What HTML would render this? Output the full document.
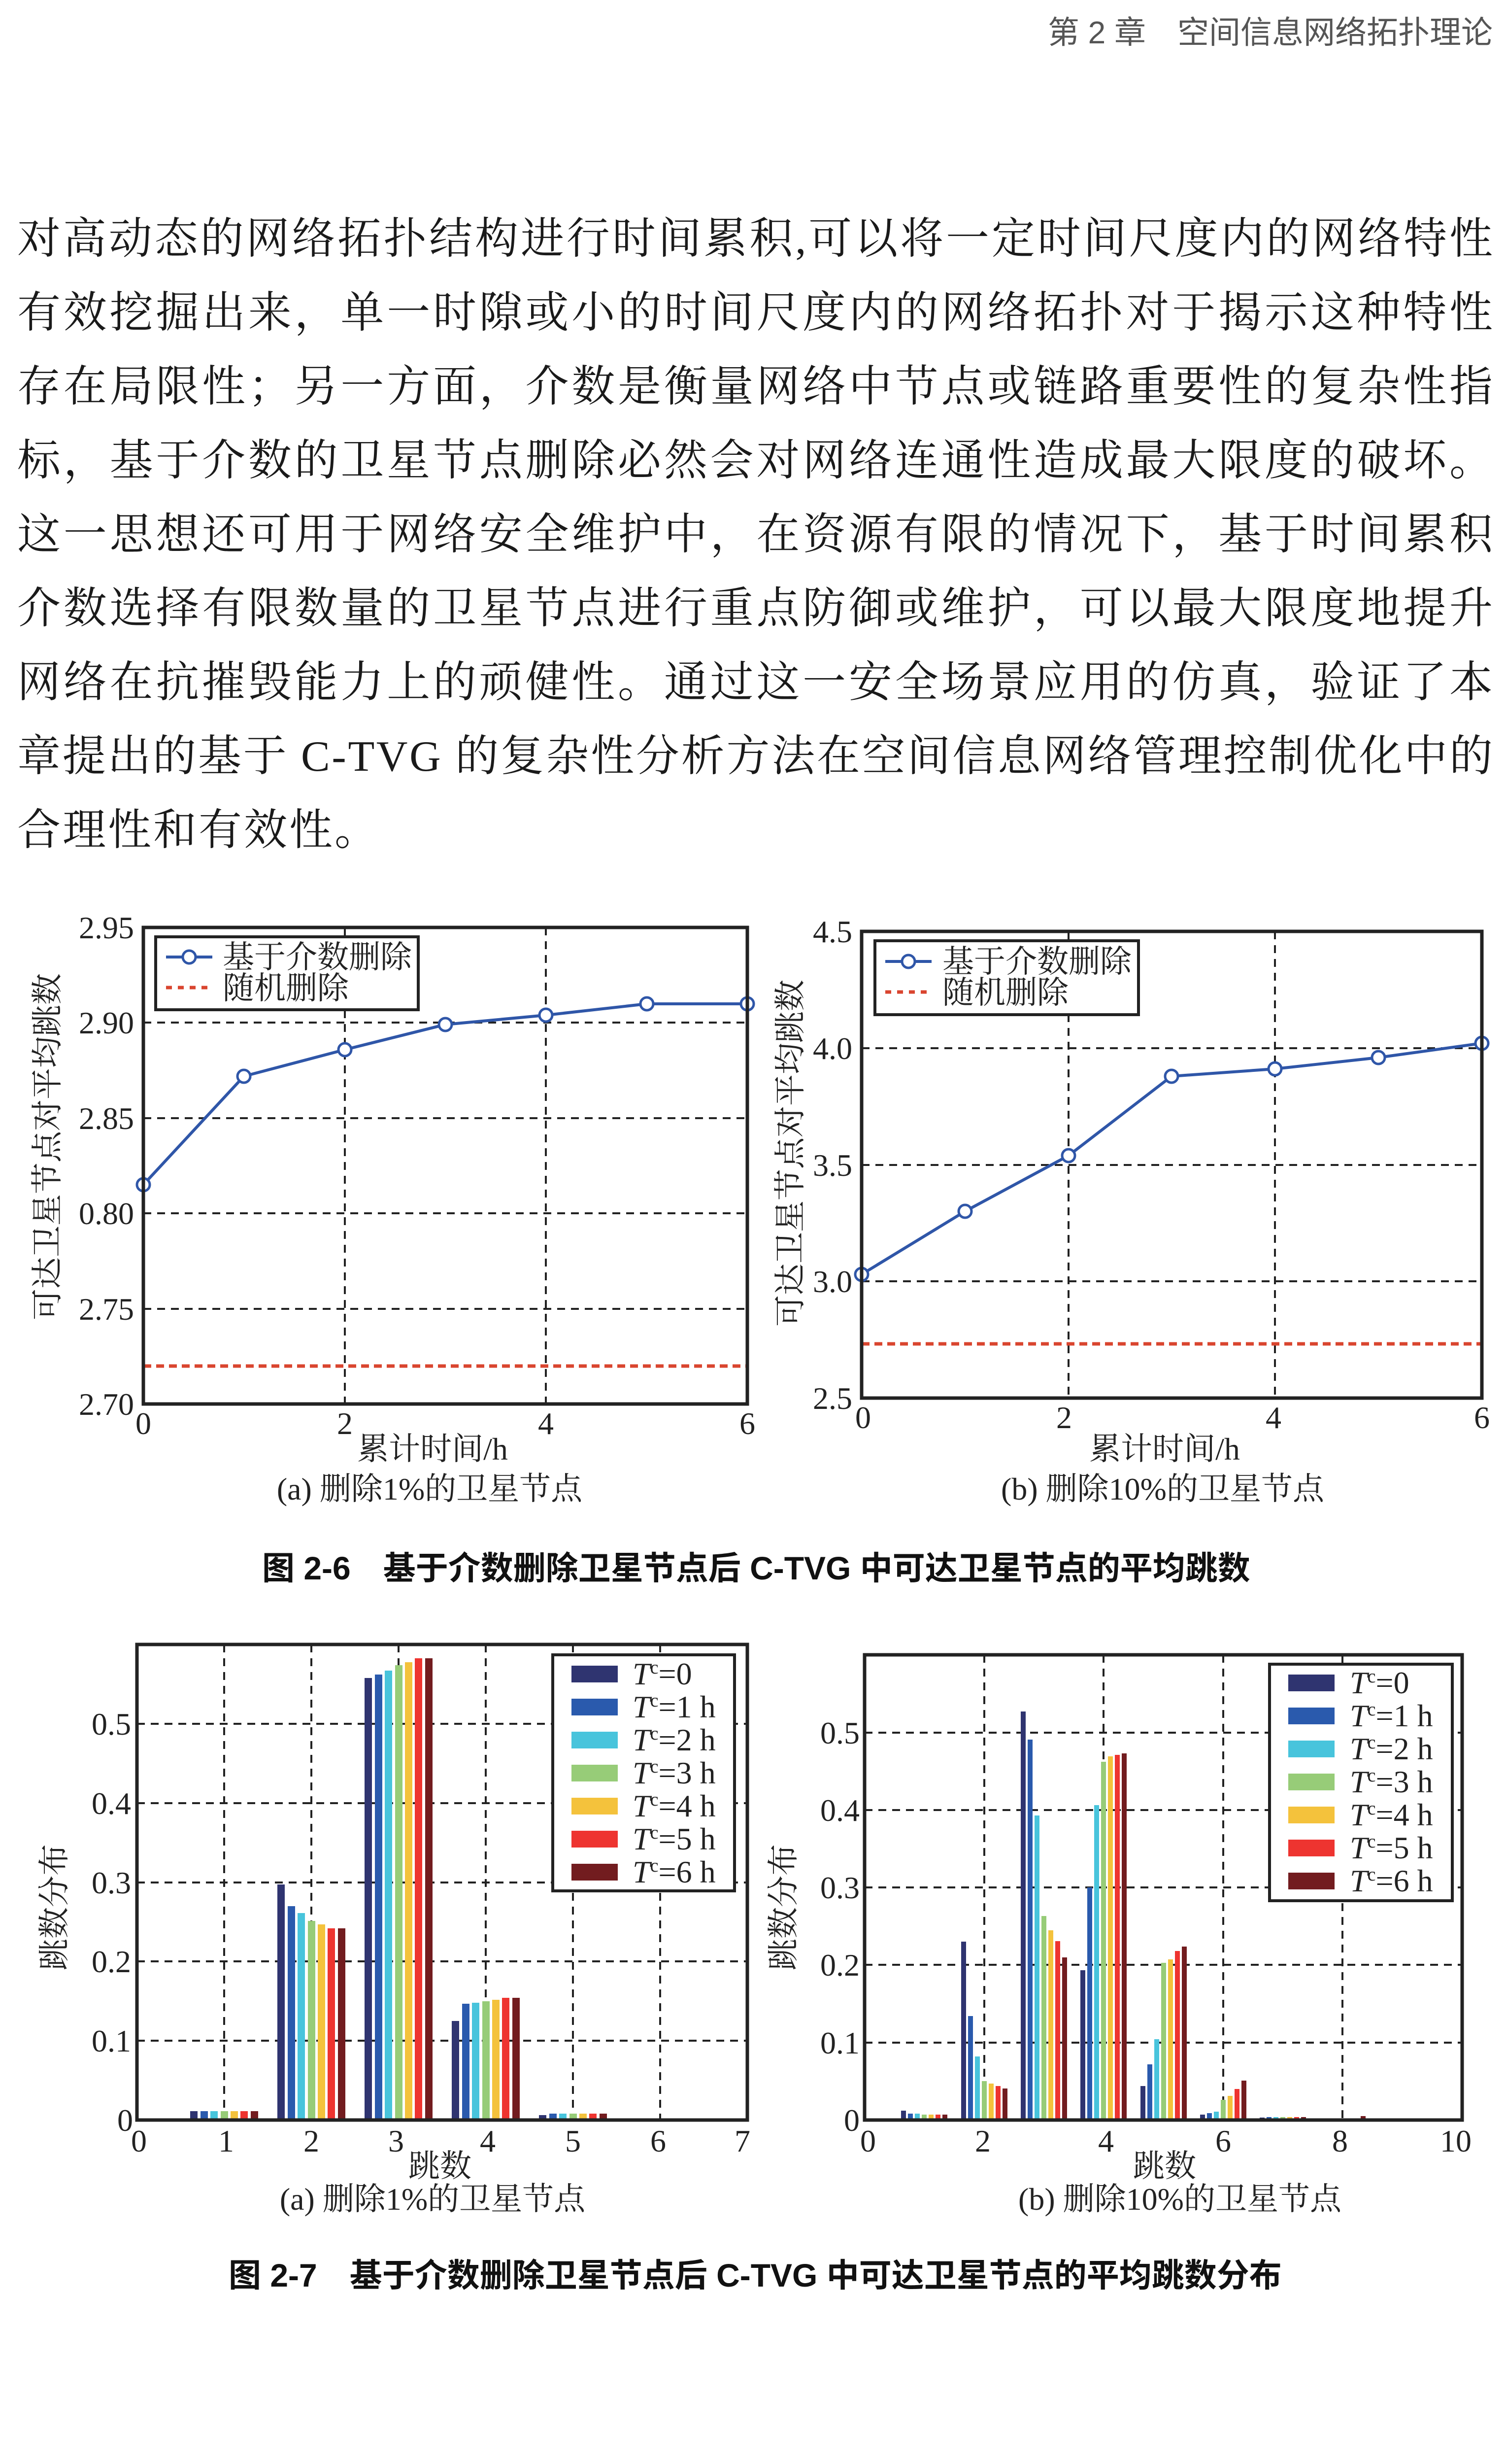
<!DOCTYPE html>
<html><head><meta charset="utf-8">
<style>
html,body{margin:0;padding:0;background:#fff;width:3057px;height:5105px;overflow:hidden;}
svg{display:block;}
.body{font-family:"Liberation Serif","Noto Serif CJK SC",serif;font-size:88px;fill:#1a1a1a;}
.cap{font-family:"Liberation Sans","Noto Sans CJK SC",sans-serif;font-size:66px;font-weight:bold;fill:#111;}
.tk{font-family:"Liberation Serif","Noto Serif CJK SC",serif;font-size:64px;fill:#222;}
.lg{font-family:"Liberation Serif","Noto Serif CJK SC",serif;font-size:64px;fill:#222;}
.grid{stroke:#222;stroke-width:4;stroke-dasharray:16 12;fill:none;}
.frame{stroke:#222;stroke-width:7;fill:none;}
</style></head>
<body>
<svg width="3057" height="5105" viewBox="0 0 3057 5105" xmlns="http://www.w3.org/2000/svg">
<rect width="3057" height="5105" fill="#fff"/>
<text x="3030" y="88" text-anchor="end" font-family="Liberation Sans,Noto Sans CJK SC,sans-serif" font-size="64" fill="#555">第 2 章　空间信息网络拓扑理论</text>

<text class="body" x="35" y="514" textLength="2995" lengthAdjust="spacing">对高动态的网络拓扑结构进行时间累积,可以将一定时间尺度内的网络特性</text>
<text class="body" x="35" y="664" textLength="2995" lengthAdjust="spacing">有效挖掘出来，单一时隙或小的时间尺度内的网络拓扑对于揭示这种特性</text>
<text class="body" x="35" y="814" textLength="2995" lengthAdjust="spacing">存在局限性；另一方面，介数是衡量网络中节点或链路重要性的复杂性指</text>
<text class="body" x="35" y="964" textLength="2995" lengthAdjust="spacing">标，基于介数的卫星节点删除必然会对网络连通性造成最大限度的破坏。</text>
<text class="body" x="35" y="1114" textLength="2995" lengthAdjust="spacing">这一思想还可用于网络安全维护中，在资源有限的情况下，基于时间累积</text>
<text class="body" x="35" y="1264" textLength="2995" lengthAdjust="spacing">介数选择有限数量的卫星节点进行重点防御或维护，可以最大限度地提升</text>
<text class="body" x="35" y="1414" textLength="2995" lengthAdjust="spacing">网络在抗摧毁能力上的顽健性。通过这一安全场景应用的仿真，验证了本</text>
<text class="body" x="35" y="1564" textLength="2995" lengthAdjust="spacing">章提出的基于 C-TVG 的复杂性分析方法在空间信息网络管理控制优化中的</text>
<text class="body" x="35" y="1714" letter-spacing="4">合理性和有效性。</text>

<!-- ===== Chart 1a ===== -->
<g>
<line class="grid" x1="291" y1="2656" x2="1517" y2="2656"/>
<line class="grid" x1="291" y1="2462" x2="1517" y2="2462"/>
<line class="grid" x1="291" y1="2269" x2="1517" y2="2269"/>
<line class="grid" x1="291" y1="2075" x2="1517" y2="2075"/>
<line class="grid" x1="700" y1="1882" x2="700" y2="2849"/>
<line class="grid" x1="1108" y1="1882" x2="1108" y2="2849"/>
<line x1="291" y1="2772" x2="1517" y2="2772" stroke="#d9452f" stroke-width="7" stroke-dasharray="16 10"/>
<polyline points="291,2404 495,2184 700,2130 904,2079 1108,2060 1313,2037 1517,2037" fill="none" stroke="#2f56a8" stroke-width="6"/>
<g fill="#fff" stroke="#2f56a8" stroke-width="5">
<circle cx="291" cy="2404" r="13"/><circle cx="495" cy="2184" r="13"/><circle cx="700" cy="2130" r="13"/><circle cx="904" cy="2079" r="13"/><circle cx="1108" cy="2060" r="13"/><circle cx="1313" cy="2037" r="13"/><circle cx="1517" cy="2037" r="13"/>
</g>
<rect x="316" y="1901" width="533" height="148" fill="#fff" stroke="#222" stroke-width="6"/>
<line x1="337" y1="1942" x2="431" y2="1942" stroke="#2f56a8" stroke-width="6"/>
<circle cx="384" cy="1942" r="13" fill="#fff" stroke="#2f56a8" stroke-width="5"/>
<line x1="337" y1="2004" x2="431" y2="2004" stroke="#d9452f" stroke-width="7" stroke-dasharray="12 12"/>
<text class="lg" x="452" y="1964">基于介数删除</text>
<text class="lg" x="452" y="2027">随机删除</text>
<rect class="frame" x="291" y="1882" width="1226" height="967"/>
<g class="tk" text-anchor="end">
<text x="272" y="1904">2.95</text><text x="272" y="2097">2.90</text><text x="272" y="2291">2.85</text><text x="272" y="2484">0.80</text><text x="272" y="2678">2.75</text><text x="272" y="2871">2.70</text>
</g>
<g class="tk" text-anchor="middle">
<text x="291" y="2910">0</text><text x="700" y="2910">2</text><text x="1108" y="2910">4</text><text x="1517" y="2910">6</text>
<text x="878" y="2962" font-size="64">累计时间/h</text>
<text x="872" y="3043" font-size="64">(a)  删除1%的卫星节点</text>
</g>
<text class="tk" font-size="68" text-anchor="middle" transform="translate(118,2327) rotate(-90)">可达卫星节点对平均跳数</text>
</g>

<!-- ===== Chart 1b ===== -->
<g>
<line class="grid" x1="1749" y1="2600" x2="3008" y2="2600"/>
<line class="grid" x1="1749" y1="2364" x2="3008" y2="2364"/>
<line class="grid" x1="1749" y1="2127" x2="3008" y2="2127"/>
<line class="grid" x1="2169" y1="1890" x2="2169" y2="2837"/>
<line class="grid" x1="2588" y1="1890" x2="2588" y2="2837"/>
<line x1="1749" y1="2727" x2="3008" y2="2727" stroke="#d9452f" stroke-width="7" stroke-dasharray="16 10"/>
<polyline points="1749,2586 1959,2458 2169,2345 2378,2184 2588,2169 2798,2146 3008,2117" fill="none" stroke="#2f56a8" stroke-width="6"/>
<g fill="#fff" stroke="#2f56a8" stroke-width="5">
<circle cx="1749" cy="2586" r="13"/><circle cx="1959" cy="2458" r="13"/><circle cx="2169" cy="2345" r="13"/><circle cx="2378" cy="2184" r="13"/><circle cx="2588" cy="2169" r="13"/><circle cx="2798" cy="2146" r="13"/><circle cx="3008" cy="2117" r="13"/>
</g>
<rect x="1776" y="1909" width="535" height="150" fill="#fff" stroke="#222" stroke-width="6"/>
<line x1="1797" y1="1951" x2="1891" y2="1951" stroke="#2f56a8" stroke-width="6"/>
<circle cx="1844" cy="1951" r="13" fill="#fff" stroke="#2f56a8" stroke-width="5"/>
<line x1="1797" y1="2013" x2="1891" y2="2013" stroke="#d9452f" stroke-width="7" stroke-dasharray="12 12"/>
<text class="lg" x="1913" y="1973">基于介数删除</text>
<text class="lg" x="1913" y="2036">随机删除</text>
<rect class="frame" x="1749" y="1890" width="1259" height="947"/>
<g class="tk" text-anchor="end">
<text x="1730" y="1912">4.5</text><text x="1730" y="2149">4.0</text><text x="1730" y="2386">3.5</text><text x="1730" y="2622">3.0</text><text x="1730" y="2859">2.5</text>
</g>
<g class="tk" text-anchor="middle">
<text x="1752" y="2898">0</text><text x="2160" y="2898">2</text><text x="2585" y="2898">4</text><text x="3008" y="2898">6</text>
<text x="2364" y="2962" font-size="64">累计时间/h</text>
<text x="2360" y="3043" font-size="64">(b)  删除10%的卫星节点</text>
</g>
<text class="tk" font-size="68" text-anchor="middle" transform="translate(1626,2340) rotate(-90)">可达卫星节点对平均跳数</text>
</g>

<text class="cap" x="532" y="3205">图 2-6　基于介数删除卫星节点后 C-TVG 中可达卫星节点的平均跳数</text>

<!-- ===== Chart 2a ===== -->
<g>
<line class="grid" x1="278" y1="4141" x2="1517" y2="4141"/>
<line class="grid" x1="278" y1="3980" x2="1517" y2="3980"/>
<line class="grid" x1="278" y1="3820" x2="1517" y2="3820"/>
<line class="grid" x1="278" y1="3659" x2="1517" y2="3659"/>
<line class="grid" x1="278" y1="3498" x2="1517" y2="3498"/>
<line class="grid" x1="455" y1="3337" x2="455" y2="4302"/>
<line class="grid" x1="632" y1="3337" x2="632" y2="4302"/>
<line class="grid" x1="809" y1="3337" x2="809" y2="4302"/>
<line class="grid" x1="986" y1="3337" x2="986" y2="4302"/>
<line class="grid" x1="1163" y1="3337" x2="1163" y2="4302"/>
<line class="grid" x1="1340" y1="3337" x2="1340" y2="4302"/>
<rect x="386" y="4284" width="15" height="18" fill="#2f3470"/>
<rect x="407" y="4284" width="15" height="18" fill="#2a5aad"/>
<rect x="427" y="4284" width="15" height="18" fill="#48c4dc"/>
<rect x="448" y="4284" width="15" height="18" fill="#97cc78"/>
<rect x="468" y="4284" width="15" height="18" fill="#f4c23c"/>
<rect x="488" y="4284" width="15" height="18" fill="#ee3430"/>
<rect x="509" y="4284" width="15" height="18" fill="#721c1f"/>
<rect x="563" y="3824" width="15" height="478" fill="#2f3470"/>
<rect x="584" y="3868" width="15" height="434" fill="#2a5aad"/>
<rect x="604" y="3882" width="15" height="420" fill="#48c4dc"/>
<rect x="625" y="3898" width="15" height="404" fill="#97cc78"/>
<rect x="645" y="3905" width="15" height="397" fill="#f4c23c"/>
<rect x="665" y="3913" width="15" height="389" fill="#ee3430"/>
<rect x="686" y="3913" width="15" height="389" fill="#721c1f"/>
<rect x="740" y="3405" width="15" height="897" fill="#2f3470"/>
<rect x="761" y="3398" width="15" height="904" fill="#2a5aad"/>
<rect x="781" y="3390" width="15" height="912" fill="#48c4dc"/>
<rect x="802" y="3379" width="15" height="923" fill="#97cc78"/>
<rect x="822" y="3373" width="15" height="929" fill="#f4c23c"/>
<rect x="842" y="3365" width="15" height="937" fill="#ee3430"/>
<rect x="863" y="3365" width="15" height="937" fill="#721c1f"/>
<rect x="917" y="4101" width="15" height="201" fill="#2f3470"/>
<rect x="938" y="4066" width="15" height="236" fill="#2a5aad"/>
<rect x="958" y="4064" width="15" height="238" fill="#48c4dc"/>
<rect x="979" y="4061" width="15" height="241" fill="#97cc78"/>
<rect x="999" y="4058" width="15" height="244" fill="#f4c23c"/>
<rect x="1019" y="4054" width="15" height="248" fill="#ee3430"/>
<rect x="1040" y="4054" width="15" height="248" fill="#721c1f"/>
<rect x="1094" y="4292" width="15" height="10" fill="#2f3470"/>
<rect x="1115" y="4289" width="15" height="13" fill="#2a5aad"/>
<rect x="1135" y="4289" width="15" height="13" fill="#48c4dc"/>
<rect x="1156" y="4289" width="15" height="13" fill="#97cc78"/>
<rect x="1176" y="4289" width="15" height="13" fill="#f4c23c"/>
<rect x="1196" y="4289" width="15" height="13" fill="#ee3430"/>
<rect x="1217" y="4289" width="15" height="13" fill="#721c1f"/>
<rect x="1122" y="3358" width="369" height="479" fill="#fff" stroke="#222" stroke-width="6"/>
<rect x="1160" y="3380" width="94" height="34" fill="#2f3470"/>
<rect x="1160" y="3447" width="94" height="34" fill="#2a5aad"/>
<rect x="1160" y="3514" width="94" height="34" fill="#48c4dc"/>
<rect x="1160" y="3581" width="94" height="34" fill="#97cc78"/>
<rect x="1160" y="3648" width="94" height="34" fill="#f4c23c"/>
<rect x="1160" y="3715" width="94" height="34" fill="#ee3430"/>
<rect x="1160" y="3782" width="94" height="34" fill="#721c1f"/>
<g class="tk" font-size="62">
<text x="1284" y="3418"><tspan font-style="italic">T</tspan><tspan font-size="38" dy="-22">c</tspan><tspan dy="22">=0</tspan></text>
<text x="1284" y="3485"><tspan font-style="italic">T</tspan><tspan font-size="38" dy="-22">c</tspan><tspan dy="22">=1 h</tspan></text>
<text x="1284" y="3552"><tspan font-style="italic">T</tspan><tspan font-size="38" dy="-22">c</tspan><tspan dy="22">=2 h</tspan></text>
<text x="1284" y="3619"><tspan font-style="italic">T</tspan><tspan font-size="38" dy="-22">c</tspan><tspan dy="22">=3 h</tspan></text>
<text x="1284" y="3686"><tspan font-style="italic">T</tspan><tspan font-size="38" dy="-22">c</tspan><tspan dy="22">=4 h</tspan></text>
<text x="1284" y="3753"><tspan font-style="italic">T</tspan><tspan font-size="38" dy="-22">c</tspan><tspan dy="22">=5 h</tspan></text>
<text x="1284" y="3820"><tspan font-style="italic">T</tspan><tspan font-size="38" dy="-22">c</tspan><tspan dy="22">=6 h</tspan></text>
</g>
<rect class="frame" x="278" y="3337" width="1239" height="965"/>
<g class="tk" text-anchor="end">
<text x="266" y="3520">0.5</text><text x="266" y="3681">0.4</text><text x="266" y="3842">0.3</text><text x="266" y="4002">0.2</text><text x="266" y="4163">0.1</text><text x="270" y="4324">0</text>
</g>
<g class="tk" text-anchor="middle">
<text x="282" y="4366">0</text><text x="459" y="4366">1</text><text x="632" y="4366">2</text><text x="804" y="4366">3</text><text x="990" y="4366">4</text><text x="1163" y="4366">5</text><text x="1336" y="4366">6</text><text x="1507" y="4366">7</text>
<text x="893" y="4417" font-size="64">跳数</text>
<text x="878" y="4484" font-size="64">(a)  删除1%的卫星节点</text>
</g>
<text class="tk" font-size="68" text-anchor="middle" transform="translate(132,3870) rotate(-90)">跳数分布</text>
</g>

<!-- ===== Chart 2b ===== -->
<g>
<line class="grid" x1="1755" y1="4145" x2="2968" y2="4145"/>
<line class="grid" x1="1755" y1="3987" x2="2968" y2="3987"/>
<line class="grid" x1="1755" y1="3830" x2="2968" y2="3830"/>
<line class="grid" x1="1755" y1="3673" x2="2968" y2="3673"/>
<line class="grid" x1="1755" y1="3516" x2="2968" y2="3516"/>
<line class="grid" x1="1998" y1="3358" x2="1998" y2="4302"/>
<line class="grid" x1="2240" y1="3358" x2="2240" y2="4302"/>
<line class="grid" x1="2483" y1="3358" x2="2483" y2="4302"/>
<line class="grid" x1="2725" y1="3358" x2="2725" y2="4302"/>
<rect x="1829" y="4283" width="10" height="19" fill="#2f3470"/>
<rect x="1843" y="4289" width="10" height="13" fill="#2a5aad"/>
<rect x="1857" y="4289" width="10" height="13" fill="#48c4dc"/>
<rect x="1871" y="4291" width="10" height="11" fill="#97cc78"/>
<rect x="1885" y="4291" width="10" height="11" fill="#f4c23c"/>
<rect x="1899" y="4291" width="10" height="11" fill="#ee3430"/>
<rect x="1913" y="4291" width="10" height="11" fill="#721c1f"/>
<rect x="1951" y="3940" width="10" height="362" fill="#2f3470"/>
<rect x="1965" y="4091" width="10" height="211" fill="#2a5aad"/>
<rect x="1979" y="4173" width="10" height="129" fill="#48c4dc"/>
<rect x="1993" y="4223" width="10" height="79" fill="#97cc78"/>
<rect x="2007" y="4228" width="10" height="74" fill="#f4c23c"/>
<rect x="2021" y="4233" width="10" height="69" fill="#ee3430"/>
<rect x="2035" y="4238" width="10" height="64" fill="#721c1f"/>
<rect x="2072" y="3473" width="10" height="829" fill="#2f3470"/>
<rect x="2086" y="3530" width="10" height="772" fill="#2a5aad"/>
<rect x="2100" y="3684" width="10" height="618" fill="#48c4dc"/>
<rect x="2114" y="3888" width="10" height="414" fill="#97cc78"/>
<rect x="2128" y="3917" width="10" height="385" fill="#f4c23c"/>
<rect x="2142" y="3939" width="10" height="363" fill="#ee3430"/>
<rect x="2156" y="3972" width="10" height="330" fill="#721c1f"/>
<rect x="2193" y="3998" width="10" height="304" fill="#2f3470"/>
<rect x="2207" y="3830" width="10" height="472" fill="#2a5aad"/>
<rect x="2221" y="3663" width="10" height="639" fill="#48c4dc"/>
<rect x="2235" y="3575" width="10" height="727" fill="#97cc78"/>
<rect x="2249" y="3564" width="10" height="738" fill="#f4c23c"/>
<rect x="2263" y="3561" width="10" height="741" fill="#ee3430"/>
<rect x="2277" y="3558" width="10" height="744" fill="#721c1f"/>
<rect x="2315" y="4233" width="10" height="69" fill="#2f3470"/>
<rect x="2329" y="4189" width="10" height="113" fill="#2a5aad"/>
<rect x="2343" y="4138" width="10" height="164" fill="#48c4dc"/>
<rect x="2357" y="3983" width="10" height="319" fill="#97cc78"/>
<rect x="2371" y="3976" width="10" height="326" fill="#f4c23c"/>
<rect x="2385" y="3959" width="10" height="343" fill="#ee3430"/>
<rect x="2399" y="3950" width="10" height="352" fill="#721c1f"/>
<rect x="2436" y="4291" width="10" height="11" fill="#2f3470"/>
<rect x="2450" y="4288" width="10" height="14" fill="#2a5aad"/>
<rect x="2464" y="4285" width="10" height="17" fill="#48c4dc"/>
<rect x="2478" y="4261" width="10" height="41" fill="#97cc78"/>
<rect x="2492" y="4253" width="10" height="49" fill="#f4c23c"/>
<rect x="2506" y="4239" width="10" height="63" fill="#ee3430"/>
<rect x="2520" y="4222" width="10" height="80" fill="#721c1f"/>
<rect x="2557" y="4297" width="10" height="5" fill="#2f3470"/>
<rect x="2571" y="4296" width="10" height="6" fill="#2a5aad"/>
<rect x="2585" y="4296" width="10" height="6" fill="#48c4dc"/>
<rect x="2599" y="4296" width="10" height="6" fill="#97cc78"/>
<rect x="2613" y="4296" width="10" height="6" fill="#f4c23c"/>
<rect x="2627" y="4296" width="10" height="6" fill="#ee3430"/>
<rect x="2641" y="4296" width="10" height="6" fill="#721c1f"/>
<rect x="2762" y="4294" width="10" height="8" fill="#721c1f"/>
<rect x="2577" y="3377" width="371" height="480" fill="#fff" stroke="#222" stroke-width="6"/>
<rect x="2615" y="3398" width="94" height="34" fill="#2f3470"/>
<rect x="2615" y="3465" width="94" height="34" fill="#2a5aad"/>
<rect x="2615" y="3532" width="94" height="34" fill="#48c4dc"/>
<rect x="2615" y="3599" width="94" height="34" fill="#97cc78"/>
<rect x="2615" y="3666" width="94" height="34" fill="#f4c23c"/>
<rect x="2615" y="3733" width="94" height="34" fill="#ee3430"/>
<rect x="2615" y="3800" width="94" height="34" fill="#721c1f"/>
<g class="tk" font-size="62">
<text x="2740" y="3436"><tspan font-style="italic">T</tspan><tspan font-size="38" dy="-22">c</tspan><tspan dy="22">=0</tspan></text>
<text x="2740" y="3503"><tspan font-style="italic">T</tspan><tspan font-size="38" dy="-22">c</tspan><tspan dy="22">=1 h</tspan></text>
<text x="2740" y="3570"><tspan font-style="italic">T</tspan><tspan font-size="38" dy="-22">c</tspan><tspan dy="22">=2 h</tspan></text>
<text x="2740" y="3637"><tspan font-style="italic">T</tspan><tspan font-size="38" dy="-22">c</tspan><tspan dy="22">=3 h</tspan></text>
<text x="2740" y="3704"><tspan font-style="italic">T</tspan><tspan font-size="38" dy="-22">c</tspan><tspan dy="22">=4 h</tspan></text>
<text x="2740" y="3771"><tspan font-style="italic">T</tspan><tspan font-size="38" dy="-22">c</tspan><tspan dy="22">=5 h</tspan></text>
<text x="2740" y="3838"><tspan font-style="italic">T</tspan><tspan font-size="38" dy="-22">c</tspan><tspan dy="22">=6 h</tspan></text>
</g>
<rect class="frame" x="1755" y="3358" width="1213" height="944"/>
<g class="tk" text-anchor="end">
<text x="1745" y="3538">0.5</text><text x="1745" y="3695">0.4</text><text x="1745" y="3852">0.3</text><text x="1745" y="4009">0.2</text><text x="1745" y="4167">0.1</text><text x="1745" y="4324">0</text>
</g>
<g class="tk" text-anchor="middle">
<text x="1762" y="4366">0</text><text x="1995" y="4366">2</text><text x="2245" y="4366">4</text><text x="2483" y="4366">6</text><text x="2720" y="4366">8</text><text x="2955" y="4366">10</text>
<text x="2364" y="4417" font-size="64">跳数</text>
<text x="2395" y="4484" font-size="64">(b)  删除10%的卫星节点</text>
</g>
<text class="tk" font-size="68" text-anchor="middle" transform="translate(1612,3870) rotate(-90)">跳数分布</text>
</g>

<text class="cap" x="464" y="4640">图 2-7　基于介数删除卫星节点后 C-TVG 中可达卫星节点的平均跳数分布</text>

<text x="3032" y="5078" text-anchor="end" font-family="Liberation Serif,serif" font-size="74" fill="#444">35</text>
</svg>
</body></html>
